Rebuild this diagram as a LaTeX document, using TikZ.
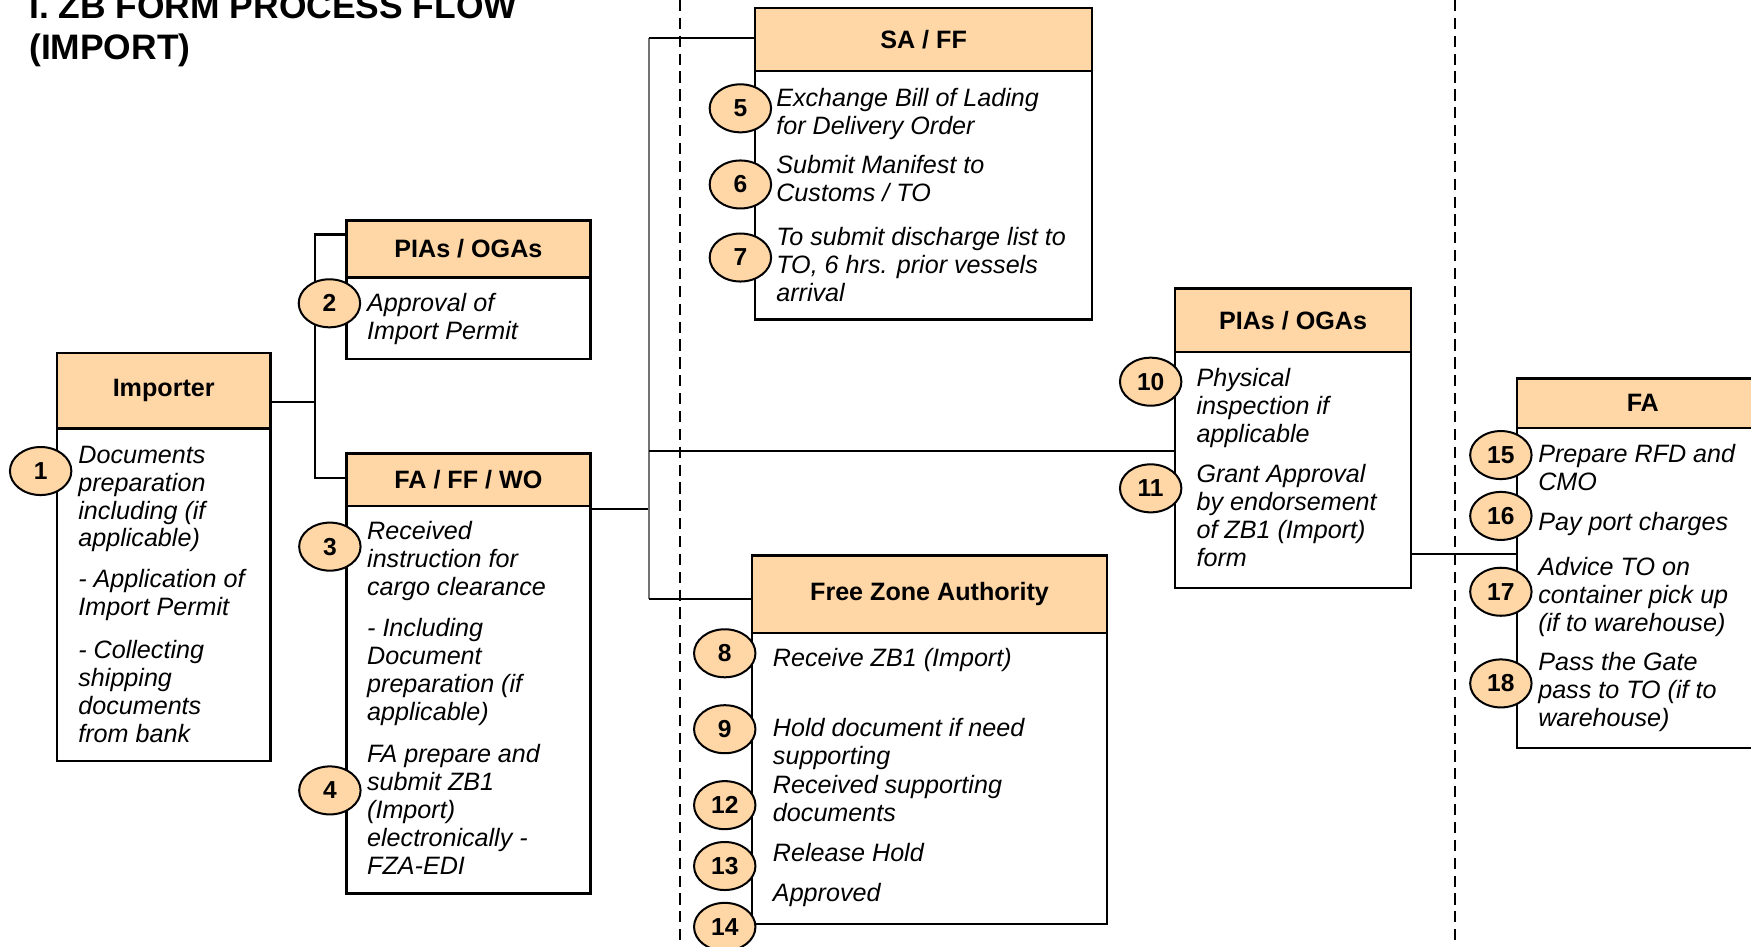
\documentclass[tikz,border=0pt]{standalone}
\usepackage{fontspec}
\setmainfont{Liberation Sans}
\usetikzlibrary{shapes.geometric}
\definecolor{peach}{RGB}{255,214,165}
\begin{document}
\begin{tikzpicture}[x=1pt,y=-1pt,
  hdr/.style={draw=black, line width=2.2pt, fill=peach, anchor=north west, inner sep=0pt,
    font=\fontsize{22.5}{25}\selectfont\bfseries},
  bodybox/.style={draw=black, line width=2.2pt, fill=white, anchor=north west, inner sep=0pt},
  txt/.style={anchor=north west, inner sep=0pt, align=left,
    font=\fontsize{22.5}{25}\selectfont\itshape},
  num/.style={ellipse, draw=black, line width=1.8pt, fill=peach, minimum width=55pt,
    minimum height=43pt, inner sep=0pt, font=\fontsize{22}{24}\selectfont\bfseries},
  conn/.style={line width=2pt, black},
  bus/.style={line width=1.4pt, black!55},
  sepline/.style={line width=1.8pt, black, dash pattern=on 10pt off 6pt},
  ttl/.style={anchor=base west, inner sep=0pt, font=\fontsize{31.7}{37}\selectfont\bfseries}
]
\useasboundingbox (0,0) rectangle (1568,848);

% separators
\coordinate (d1t) at (609,0);
\coordinate (d1b) at (609,848);
\coordinate (d2t) at (1303.3,0);
\coordinate (d2b) at (1303.3,848);
\draw[sepline] (d1t) -- (d1b);
\draw[sepline] (d2t) -- (d2b);

% title
\node[ttl] (title1) at (26,16.4) {I. ZB FORM PROCESS FLOW};
\node[ttl] (title2) at (26,53.7) {(IMPORT)};

% boxes
\node[hdr, minimum width=191pt, minimum height=67.6pt] (imph) at (50,315) {Importer};
\node[bodybox, minimum width=191pt, minimum height=297.8pt] (impb) at (50,382.6) {};

\node[hdr, minimum width=218.7pt, minimum height=50.8pt] (pias1h) at (309,196.4) {PIAs / OGAs};
\node[bodybox, minimum width=218.7pt, minimum height=73.1pt] (pias1b) at (309,247.2) {};

\node[hdr, minimum width=218.7pt, minimum height=46.9pt] (fafwh) at (309,405.1) {FA / FF / WO};
\node[bodybox, minimum width=218.7pt, minimum height=347pt] (fafwb) at (309,452) {};

\node[hdr, minimum width=302pt, minimum height=56.7pt] (saffh) at (675,6) {SA / FF};
\node[bodybox, minimum width=302pt, minimum height=222.3pt] (saffb) at (675,62.7) {};

\node[hdr, minimum width=317.5pt, minimum height=69.3pt] (fzah) at (672.5,496.4) {Free Zone Authority};
\node[bodybox, minimum width=317.5pt, minimum height=260.6pt] (fzab) at (672.5,565.7) {};

\node[hdr, minimum width=211.2pt, minimum height=56.7pt] (pias2h) at (1051.2,257.3) {PIAs / OGAs};
\node[bodybox, minimum width=211.2pt, minimum height=211.4pt] (pias2b) at (1051.2,314) {};

\node[hdr, minimum width=225pt, minimum height=44.1pt] (fah) at (1357.5,337.9) {FA};
\node[bodybox, minimum width=225pt, minimum height=286.7pt] (fab) at (1357.5,382) {};

% connectors
\coordinate (c1) at (282,360);
\coordinate (c1t) at (282,210);
\coordinate (c1b) at (282,427.7);
\draw[conn] (imph.east |- c1) -- (c1);
\draw[conn] (pias1h.west |- c1t) -- (c1t) -- (c1b) -- (fafwh.west |- c1b);

\coordinate (c2) at (581,455.5);
\coordinate (c2t) at (581,33.7);
\coordinate (c2m) at (581,403.6);
\coordinate (c2b) at (581,536.7);
\draw[conn] (fafwb.east |- c2) -- (c2);
\draw[bus] (c2t) -- (c2b);
\draw[conn] (c2t) -- (saffh.west |- c2t);
\draw[conn] (c2m) -- (pias2b.west |- c2m);
\draw[conn] (c2b) -- (fzah.west |- c2b);

\coordinate (c3) at (1300,496);
\draw[conn] (pias2b.east |- c3) -- (fab.west |- c3);

% texts
\node[txt] (t1a) at (70,397.1) {\strut Documents\\preparation\\including (if\\applicable)};
\node[txt] (t1b) at (70,508.1) {\strut - Application of\\Import Permit};
\node[txt] (t1c) at (70,572.3) {\strut - Collecting\\shipping\\documents\\from bank};

\node[txt] (t2) at (328.6,261.5) {\strut Approval of\\Import Permit};

\node[txt] (t3a) at (328.6,465.7) {\strut Received\\instruction for\\cargo clearance};
\node[txt] (t3b) at (328.6,552.5) {\strut - Including\\Document\\preparation (if\\applicable)};
\node[txt] (t4) at (328.6,665.3) {\strut FA prepare and\\submit ZB1\\(Import)\\electronically -\\FZA-EDI};

\node[txt] (t5) at (695,77.5) {\strut Exchange Bill of Lading\\for Delivery Order};
\node[txt] (t6) at (695,137.7) {\strut Submit Manifest to\\Customs / TO};
\node[txt] (t7) at (695,201.9) {\strut To submit discharge list to\\TO, 6 hrs. prior vessels\\arrival};

\node[txt] (t8) at (692,579.5) {\strut Receive ZB1 (Import)};
\node[txt] (t9) at (692,641.5) {\strut Hold document if need\\supporting};
\node[txt] (t12) at (692,692.5) {\strut Received supporting\\documents};
\node[txt] (t13) at (692,754.1) {\strut Release Hold};
\node[txt] (t14) at (692,790) {\strut Approved};

\node[txt] (t10) at (1071.3,328.8) {\strut Physical\\inspection if\\applicable};
\node[txt] (t11) at (1071.3,414.7) {\strut Grant Approval\\by endorsement\\of ZB1 (Import)\\form};

\node[txt] (t15) at (1377.3,396.8) {\strut Prepare RFD and\\CMO};
\node[txt] (t16) at (1377.3,457.1) {\strut Pay port charges};
\node[txt] (t17) at (1377.3,497.5) {\strut Advice TO on\\container pick up\\(if to warehouse)};
\node[txt] (t18) at (1377.3,582.5) {\strut Pass the Gate\\pass to TO (if to\\warehouse)};

% step numbers
\node[num] (n1) at (36.4,421.8) {1};
\node[num] (n2) at (295,271.6) {2};
\node[num] (n3) at (295.4,489.5) {3};
\node[num] (n4) at (295.4,707.8) {4};
\node[num] (n5) at (663,97) {5};
\node[num] (n6) at (663,165.2) {6};
\node[num] (n7) at (663,230.6) {7};
\node[num] (n8) at (649,585) {8};
\node[num] (n9) at (649,653) {9};
\node[num] (n12) at (649,721) {12};
\node[num] (n13) at (649,775.5) {13};
\node[num] (n14) at (649,830) {14};
\node[num] (n10) at (1030.4,341.8) {10};
\node[num] (n11) at (1030.4,437.3) {11};
\node[num] (n15) at (1344,407.5) {15};
\node[num] (n16) at (1344,462) {16};
\node[num] (n17) at (1344,529.9) {17};
\node[num] (n18) at (1344,612) {18};
\end{tikzpicture}
\end{document}
